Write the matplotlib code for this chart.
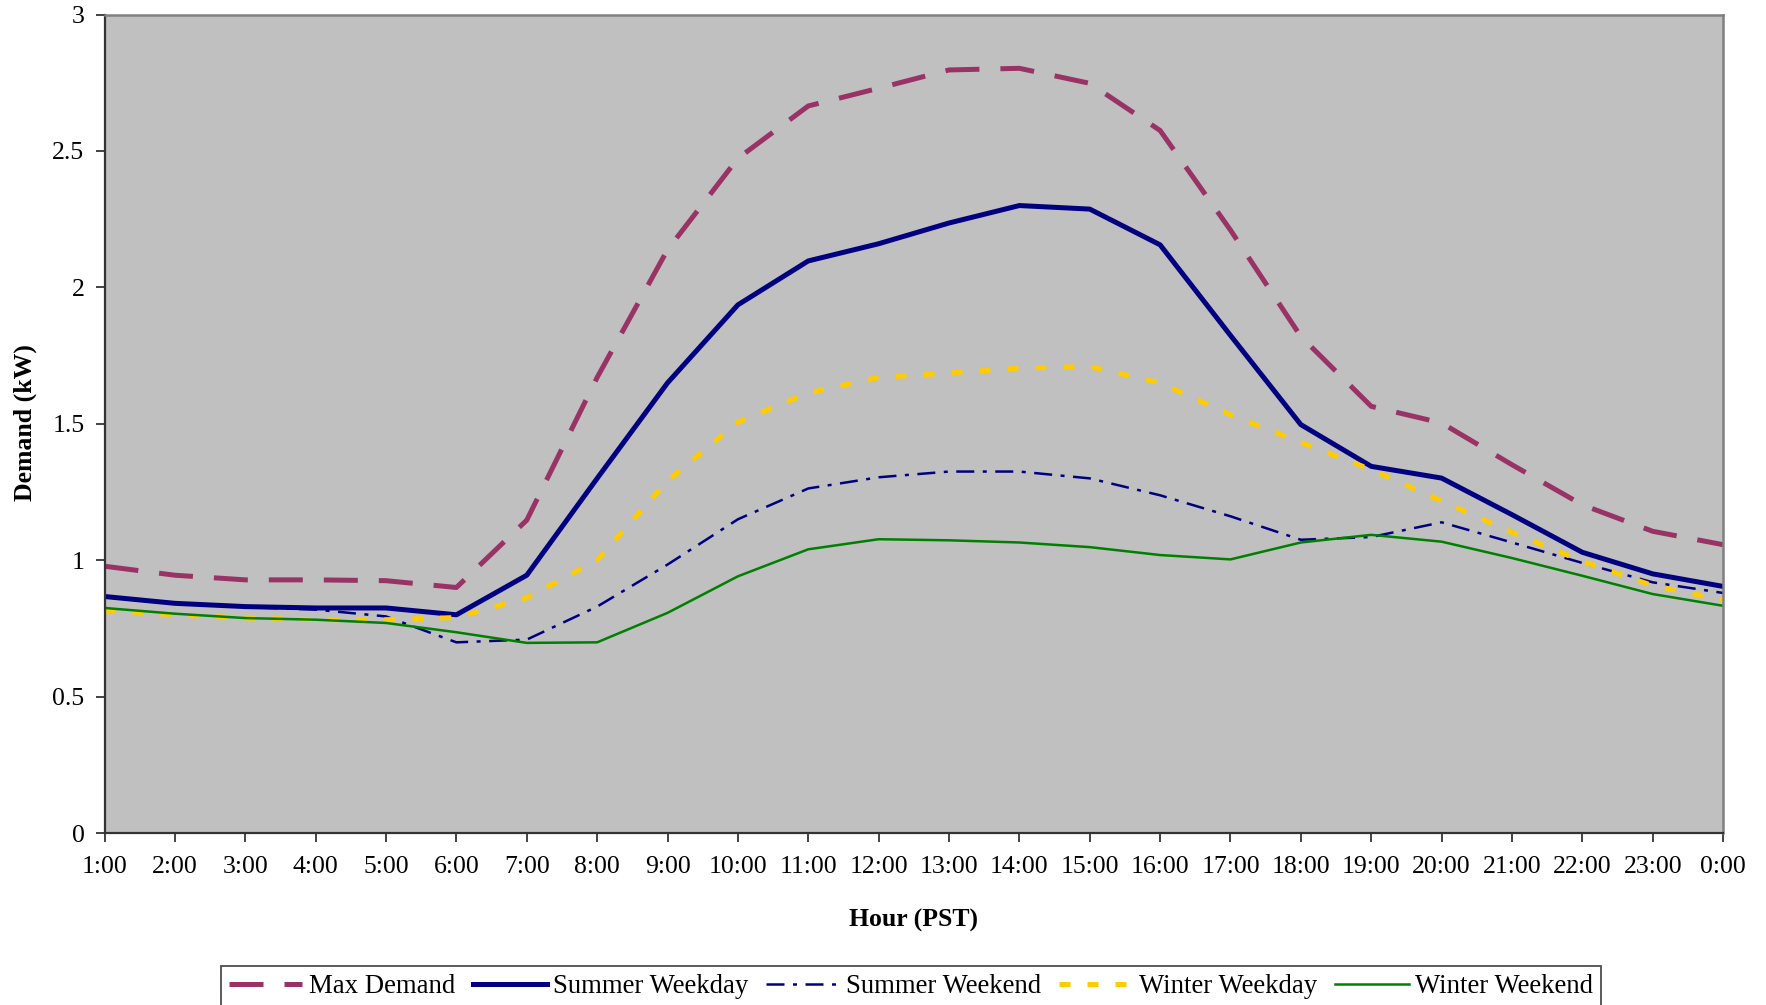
import matplotlib
matplotlib.use("Agg")
import matplotlib.pyplot as plt
import numpy as np

plt.rcParams['font.family'] = ['Liberation Serif', 'DejaVu Serif']

# hourly demand profiles (kW)
hours = ['1:00', '2:00', '3:00', '4:00', '5:00', '6:00', '7:00', '8:00', '9:00',
         '10:00', '11:00', '12:00', '13:00', '14:00', '15:00', '16:00', '17:00',
         '18:00', '19:00', '20:00', '21:00', '22:00', '23:00', '0:00']
max_demand = [0.978, 0.945, 0.928, 0.928, 0.925, 0.90, 1.147, 1.67, 2.138, 2.473,
              2.665, 2.73, 2.797, 2.803, 2.748, 2.575, 2.21, 1.82, 1.564, 1.503,
              1.35, 1.203, 1.106, 1.057]
summer_weekday = [0.867, 0.842, 0.83, 0.825, 0.825, 0.80, 0.945, 1.30, 1.65, 1.936,
                  2.097, 2.16, 2.236, 2.30, 2.287, 2.156, 1.824, 1.497, 1.344, 1.301,
                  1.167, 1.029, 0.95, 0.904]
summer_weekend = [0.865, 0.84, 0.828, 0.819, 0.794, 0.699, 0.709, 0.83, 0.984, 1.15,
                  1.263, 1.304, 1.325, 1.325, 1.30, 1.238, 1.161, 1.075, 1.085, 1.139,
                  1.065, 0.99, 0.919, 0.88]
winter_weekday = [0.816, 0.80, 0.788, 0.782, 0.782, 0.79, 0.862, 1.00, 1.29, 1.506,
                  1.613, 1.67, 1.686, 1.704, 1.71, 1.65, 1.533, 1.432, 1.332, 1.217,
                  1.102, 0.996, 0.907, 0.855]
winter_weekend = [0.825, 0.804, 0.788, 0.782, 0.77, 0.736, 0.697, 0.699, 0.807, 0.941,
                  1.04, 1.077, 1.073, 1.065, 1.048, 1.019, 1.003, 1.065, 1.093, 1.068,
                  1.008, 0.943, 0.876, 0.833]

x = np.arange(len(hours))
fs = 18.5

fig = plt.figure(figsize=(17.66, 10.05), dpi=100)
ax = fig.add_axes([0.0592, 0.1711, 0.9165, 0.8144])
ax.set_facecolor('#C0C0C0')

ax.plot(x, max_demand, color='#993366', lw=3.6, dashes=(6.8, 4.2), label='Max Demand')
ax.plot(x, summer_weekday, color='#000080', lw=3.6, label='Summer Weekday')
ax.plot(x, summer_weekend, color='#000080', lw=1.8, dashes=(7.2, 3.4, 1.6, 3.4),
        label='Summer Weekend')
ax.plot(x, winter_weekday, color='#FFCC00', lw=3.6, dashes=(2.2, 3.4), label='Winter Weekday')
ax.plot(x, winter_weekend, color='#008000', lw=1.8, label='Winter Weekend')

ax.set_xlim(0, len(hours) - 1)
ax.set_ylim(0, 3)
ax.set_xticks(x)
ax.set_xticklabels(hours, fontsize=fs)
ax.set_yticks(np.arange(0, 3.01, 0.5))
ax.set_yticklabels(['0', '0.5', '1', '1.5', '2', '2.5', '3'], fontsize=fs)
ax.tick_params(axis='both', direction='out', length=6.5, width=1.2, color='#222222')
ax.tick_params(axis='x', pad=10)
ax.tick_params(axis='y', pad=8)

for side in ['left', 'bottom']:
    ax.spines[side].set_color('#333333')
    ax.spines[side].set_linewidth(1.6)
for side in ['top', 'right']:
    ax.spines[side].set_color('#808080')
    ax.spines[side].set_linewidth(1.8)

fig.text(913.5 / 1766, 1 - 920 / 1005, 'Hour (PST)', fontsize=fs, fontweight='bold',
         ha='center', va='center')
fig.text(25 / 1766, 1 - 423 / 1005, 'Demand (kW)', fontsize=fs, fontweight='bold',
         rotation=90, ha='center', va='center')

leg = fig.legend(loc='lower center', bbox_to_anchor=(911 / 1766, -0.002), ncol=5,
                 fontsize=19.3, frameon=True, fancybox=False, edgecolor='#222222',
                 handlelength=2.75, handletextpad=0.25, columnspacing=0.65,
                 borderpad=0.3, borderaxespad=0.0)
leg.get_frame().set_linewidth(1.3)

fig.savefig('out.png', dpi=100)
